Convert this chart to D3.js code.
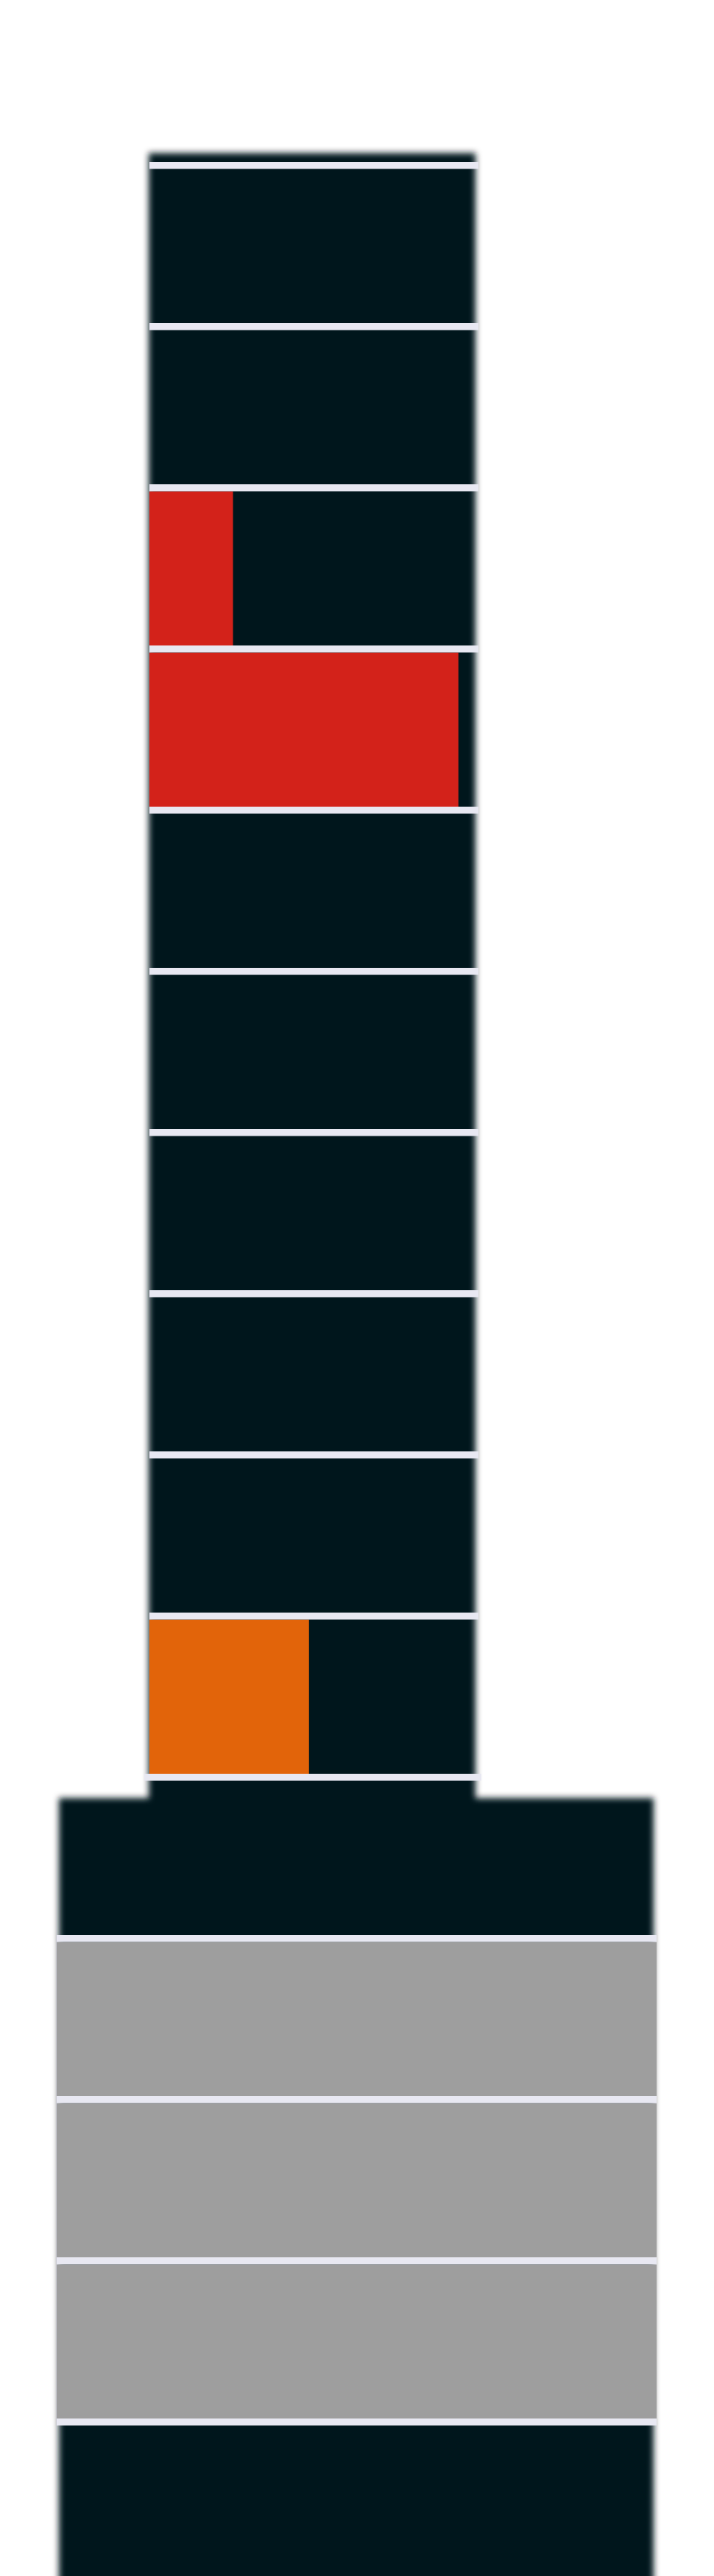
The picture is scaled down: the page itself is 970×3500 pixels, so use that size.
<!DOCTYPE html>
<html>
<head>
<meta charset="utf-8">
<script src="https://cdn.jsdelivr.net/npm/d3@7"></script>
<style>
  html, body { margin: 0; padding: 0; background: #ffffff; }
  svg { display: block; }
</style>
</head>
<body>
<div id="chart"></div>
<script>
// ---- Data ----
// 15 stacked rows: first 10 form the narrow tower, last 5 form the wide base
const rows = d3.range(15);
// filled share (%) of each row
const rowValues = [0, 0, 25.4, 93.9, 0, 0, 0, 0, 0, 48.5, 0, 100, 100, 100, 0];
const rowColors = ["#d3221a", "#d3221a", "#d3221a", "#d3221a", "#d3221a",
                   "#d3221a", "#d3221a", "#d3221a", "#d3221a", "#e2640a",
                   "#9e9e9e", "#9e9e9e", "#9e9e9e", "#9e9e9e", "#9e9e9e"];
// separator lines: one above each row
const separators = d3.range(15);

// ---- Layout ----
const W = 970, H = 3500;
const DARK = "#06161d", LINE = "#e8e8f2";
const lineH = 9.5;

const svg = d3.select("#chart").append("svg")
  .attr("width", W).attr("height", H);

const y = d3.scaleBand().domain(rows).range([220, 220 + 219 * 15]).paddingInner(0);
const xTower = d3.scaleLinear().domain([0, 100]).range([203, 650]);
const xBase = d3.scaleLinear().domain([0, 100]).range([77, 892]);
const xFor = r => (r < 10 ? xTower : xBase);

const defs = svg.append("defs");
defs.append("filter").attr("id", "soft")
  .attr("filterUnits", "userSpaceOnUse")
  .attr("x", 0).attr("y", 0).attr("width", W).attr("height", H + 100)
  .append("feGaussianBlur").attr("stdDeviation", 4);

// dark silhouette (blurred)
const bg = svg.append("g").attr("filter", "url(#soft)");
bg.append("rect")
  .attr("x", xTower(0) - 1).attr("width", xTower(100) - xTower(0) - 3)
  .attr("y", y(0) - 12).attr("height", y(10) + 40 - (y(0) - 12))
  .attr("fill", DARK);
bg.append("rect")
  .attr("x", xBase(0) + 3).attr("width", xBase(100) - xBase(0) - 7)
  .attr("y", y(10) + 33).attr("height", H + 60 - (y(10) + 33))
  .attr("fill", DARK);

// value bars
svg.append("g").selectAll("rect.bar")
  .data(rows.filter(r => rowValues[r] > 0))
  .join("rect")
  .attr("class", "bar")
  .attr("x", r => xFor(r)(0))
  .attr("width", r => xFor(r)(rowValues[r]) - xFor(r)(0))
  .attr("y", r => y(r) + lineH)
  .attr("height", r => y.bandwidth() - lineH)
  .attr("fill", r => rowColors[r]);

// separator lines
svg.append("g").selectAll("rect.sep")
  .data(separators)
  .join("rect")
  .attr("class", "sep")
  .attr("x", k => (k < 10 ? xTower(0) : k === 10 ? xTower(0) - 7 : xBase(0)))
  .attr("width", k => (k < 10 ? xTower(100) - xTower(0) : k === 10 ? xTower(100) - xTower(0) + 11 : xBase(100) - xBase(0)))
  .attr("y", k => y(k))
  .attr("height", lineH)
  .attr("fill", LINE);
</script>
</body>
</html>
